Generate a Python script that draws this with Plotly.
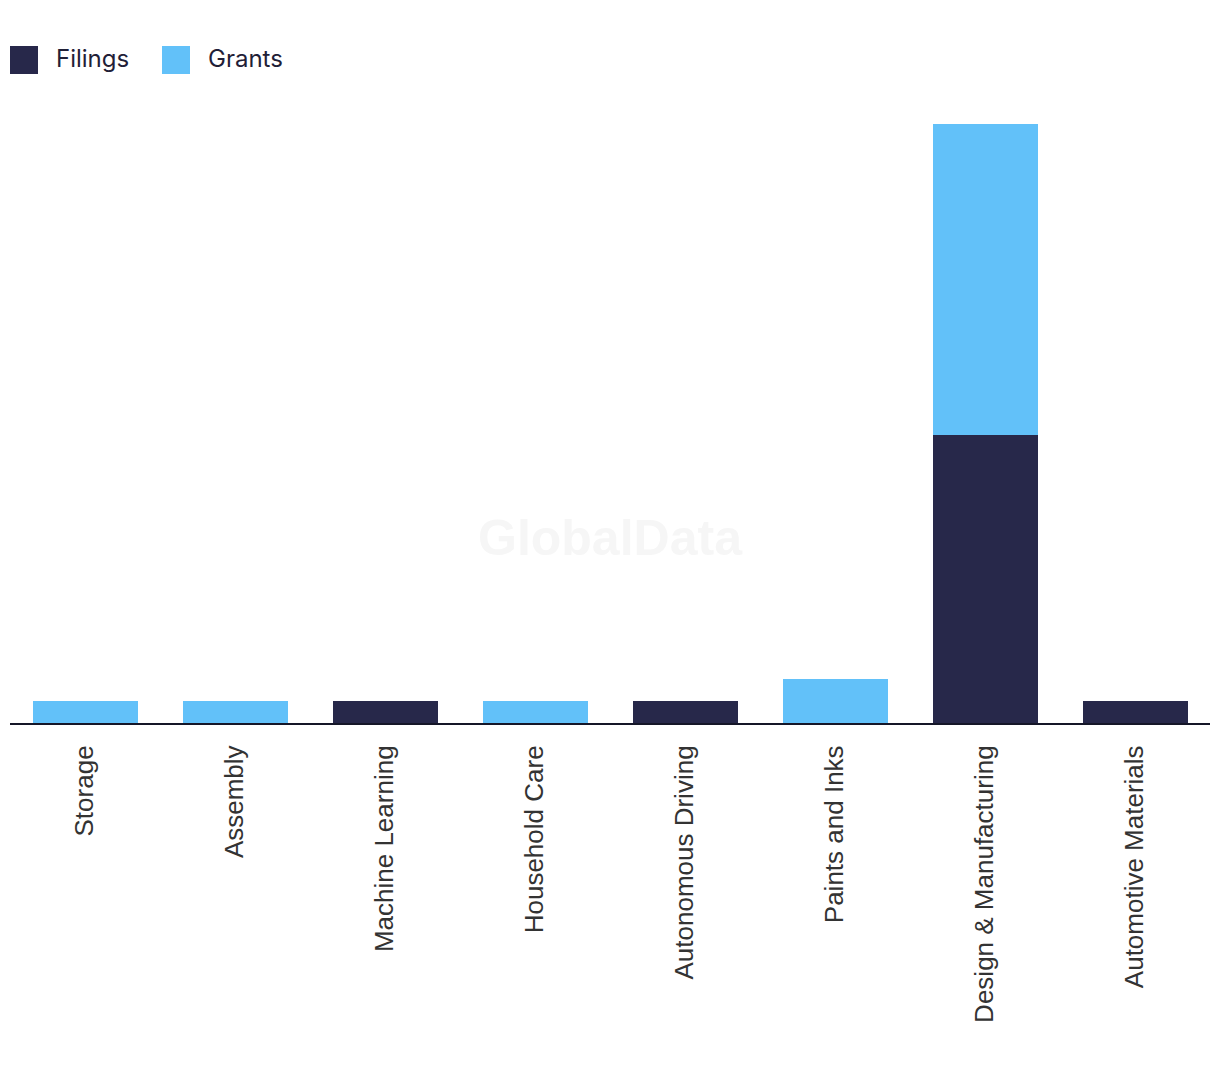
import plotly.graph_objects as go

categories = ["Storage", "Assembly", "Machine Learning", "Household Care",
              "Autonomous Driving", "Paints and Inks", "Design & Manufacturing",
              "Automotive Materials"]
filings = [0, 0, 1, 0, 1, 0, 13, 1]
grants = [1, 1, 0, 1, 0, 2, 14, 0]

FIL_COLOR = "#27284a"
GRA_COLOR = "#62c1f9"
FONT = "Liberation Sans, Arial, sans-serif"
LEG_FONT = "Inter, Roboto, Arial, sans-serif"

fig = go.Figure()
fig.add_trace(go.Bar(x=categories, y=filings, name="Filings", marker_color=FIL_COLOR,
                     marker_line_width=0, showlegend=False))
fig.add_trace(go.Bar(x=categories, y=grants, name="Grants", marker_color=GRA_COLOR,
                     marker_line_width=0, showlegend=False))

# custom legend
legend_items = [("Filings", FIL_COLOR, 10), ("Grants", GRA_COLOR, 162)]
for name, color, x0 in legend_items:
    fig.add_shape(type="rect", xref="paper", yref="paper",
                  x0=(x0 - 10) / 1200, x1=(x0 + 18) / 1200,
                  y0=(723 - 74) / 623, y1=(723 - 46) / 623,
                  fillcolor=color, line_width=0)
    fig.add_annotation(text=name, xref="paper", yref="paper",
                       x=(x0 + 34) / 1200, y=(723 - 59) / 623,
                       xanchor="left", yanchor="middle", showarrow=False,
                       font=dict(family=LEG_FONT, size=24, color="#1f2037"))

fig.add_annotation(text="<b>GlobalData</b>", xref="paper", yref="paper",
                   x=0.5, y=(723 - 568) / 623, showarrow=False,
                   font=dict(family="Liberation Sans, Arial, sans-serif", size=50, color="#f6f6f6"))

fig.update_layout(
    barmode="stack",
    bargap=0.3,
    width=1220, height=1072,
    margin=dict(l=10, r=10, t=100, b=349),
    plot_bgcolor="white", paper_bgcolor="white",
    showlegend=False,
    font=dict(family=FONT),
    xaxis=dict(showline=True, linecolor="#151628", linewidth=2, tickangle=-90,
               tickfont=dict(family=FONT, size=26, color="#333333"),
               ticks="", ticklabelstandoff=10, showgrid=False),
    yaxis=dict(visible=False, range=[0, 27 * 623 / 599], showgrid=False, zeroline=False),
)

fig.write_html("out.html")
